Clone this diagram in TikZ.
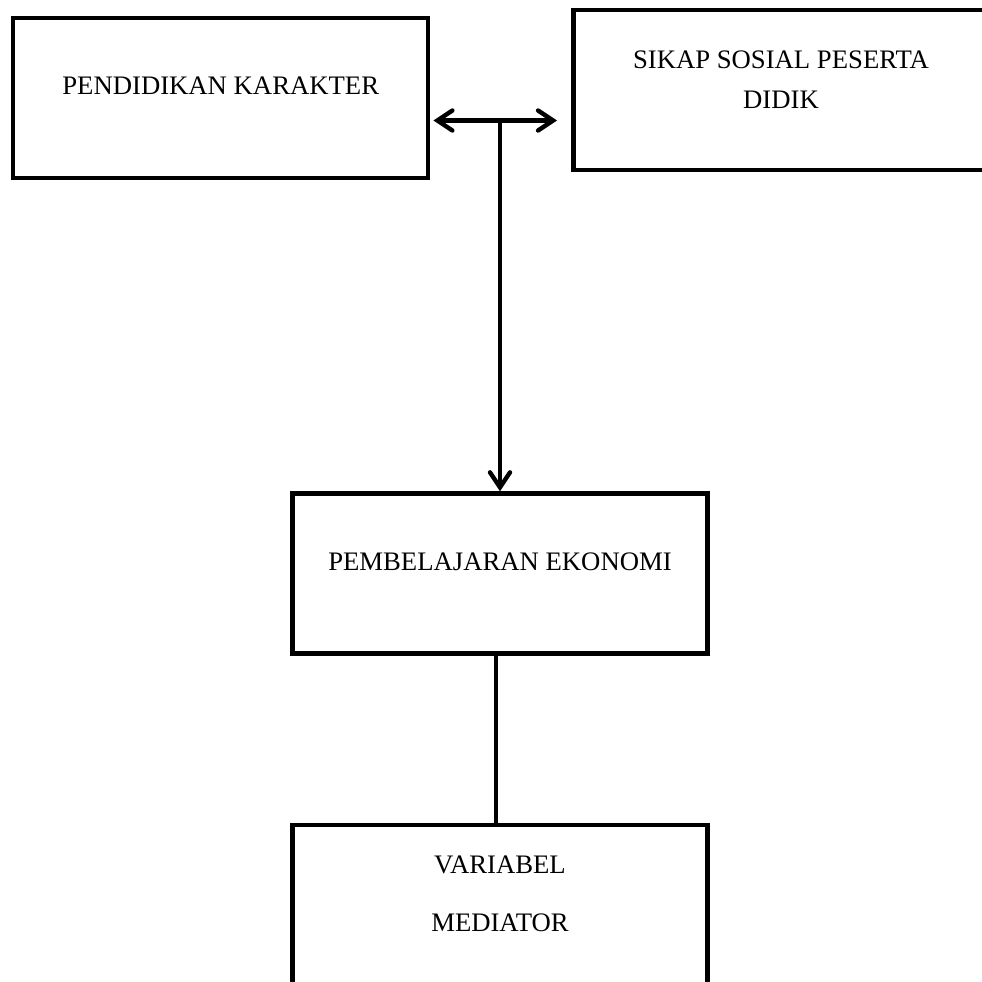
\documentclass[tikz,border=0pt]{standalone}
\usepackage{fontspec}
\setmainfont{Liberation Serif}
\usetikzlibrary{arrows.meta}

\tikzset{
  kotak/.style={draw, line width=2.5pt, minimum width=8.3cm, minimum height=3.2cm, inner sep=0pt},
  teks/.style={inner sep=0pt, font=\fontsize{15.2}{18}\selectfont},
  panah/.style={line width=2.5pt, line cap=round, line join=round},
  ujungpanah/.tip={Straight Barb[length=0.3cm, width=0.4cm, line cap=round]}
}

\begin{document}
\begin{tikzpicture}[x=0.02cm, y=-0.02cm]
                            \useasboundingbox (0,0) rectangle (982,982);
                            \clip (0,0) rectangle (982,982);
                            % kotak
                            \node[kotak] (pk) at (220.75,98) {};
                            \node[kotak] (ss) at (781,90) {};
                            \node[kotak] (pe) at (500,573.5) {};
                            \node[kotak] (vm) at (500,905) {};
                            % isi kotak
                            \node[teks] (tpk) at (220.75,86) {PENDIDIKAN KARAKTER};
                            \node[teks, align=center, font=\fontsize{15.2}{22.8}\selectfont] (tss) at (781,80) {SIKAP SOSIAL PESERTA\\DIDIK};
                            \node[teks] (tpe) at (500,562) {PEMBELAJARAN EKONOMI};
                            \node[teks, align=center, font=\fontsize{15.2}{33}\selectfont] (tvm) at (500,894) {VARIABEL\\MEDIATOR};
                            % panah
                            \coordinate (simpang) at (500,120.5);
                            \coordinate (ujung) at (557,120.5);
                            \draw[panah, ujungpanah-ujungpanah] (pk.east |- simpang) ++(3,0) -- (ujung);
                            \draw[panah, -ujungpanah] (simpang) -- (simpang |- pe.north);
                            \draw[panah] ([xshift=-0.08cm]pe.south) -- ([xshift=-0.08cm]vm.north);
                        \end{tikzpicture}
\end{document}
